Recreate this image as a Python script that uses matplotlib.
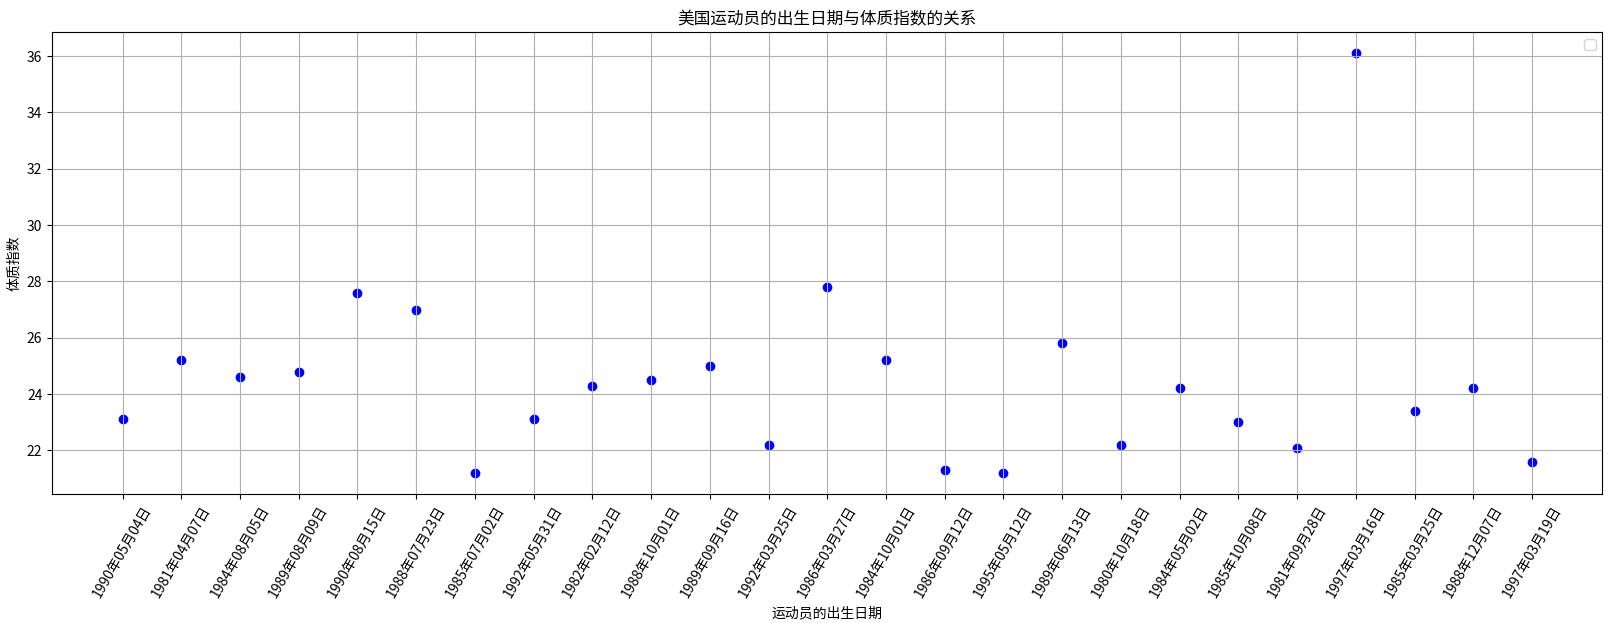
import matplotlib
matplotlib.use('Agg')
import matplotlib.pyplot as plt

plt.rcParams['font.family'] = ['Noto Sans CJK SC', 'DejaVu Sans']
plt.rcParams['axes.unicode_minus'] = False

######## Data ################################################################

birth_dates = ['1990年05月04日', '1981年04月07日', '1984年08月05日', '1989年08月09日',
               '1990年08月15日', '1988年07月23日', '1985年07月02日', '1992年05月31日',
               '1982年02月12日', '1988年10月01日', '1989年09月16日', '1992年03月25日',
               '1986年03月27日', '1984年10月01日', '1986年09月12日', '1995年05月12日',
               '1989年06月13日', '1980年10月18日', '1984年05月02日', '1985年10月08日',
               '1981年09月28日', '1997年03月16日', '1985年03月25日', '1988年12月07日',
               '1997年03月19日']

bmi = [23.1, 25.2, 24.6, 24.8, 27.6, 27.0, 21.2, 23.1, 24.3, 24.5, 25.0, 22.2,
       27.8, 25.2, 21.3, 21.2, 25.8, 22.2, 24.2, 23.0, 22.1, 36.1, 23.4, 24.2, 21.6]

######## Plot ################################################################

plt.figure(figsize=(16.11, 6.23), dpi=100)
plt.scatter(birth_dates, bmi, color='blue')
plt.title('美国运动员的出生日期与体质指数的关系')
plt.xlabel('运动员的出生日期')
plt.ylabel('体质指数')
plt.xticks(rotation=60)
plt.grid(True)
plt.legend()
plt.subplots_adjust(left=0.0323, right=0.9947, top=0.9482, bottom=0.2071)

plt.savefig('out.png', dpi=100)
